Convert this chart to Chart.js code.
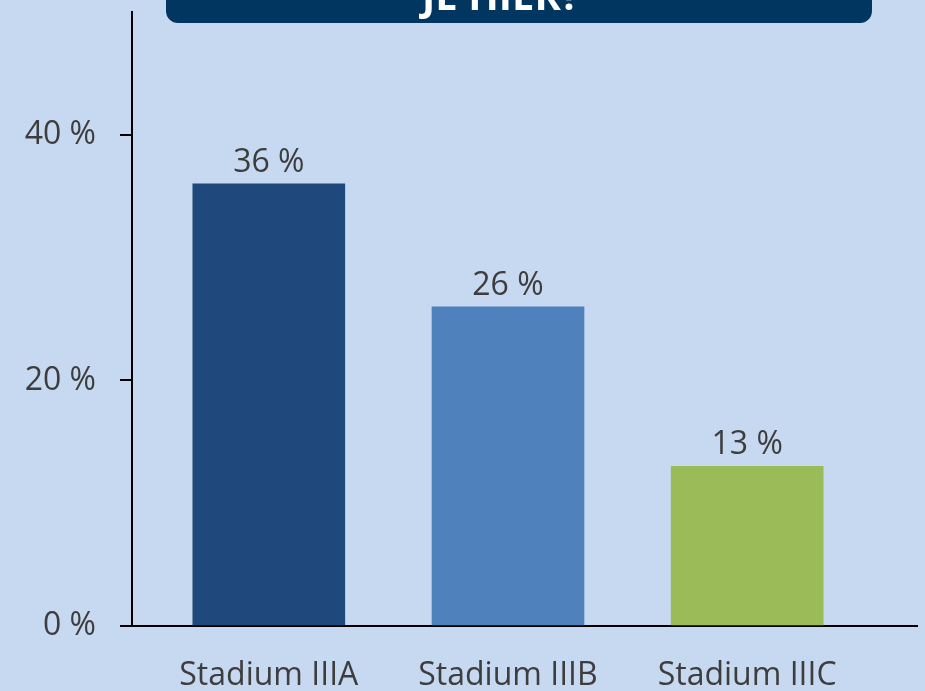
<!DOCTYPE html>
<html>
<head>
<meta charset="utf-8">
<script src="https://cdn.jsdelivr.net/npm/chart.js@4.4.0/dist/chart.umd.min.js"></script>
<style>
  html, body { margin: 0; padding: 0; background: #c6d9f0; }
  #wrap { width: 925px; height: 691px; position: relative; }
</style>
</head>
<body>
<div id="wrap"><canvas id="stageChart"></canvas></div>
<script>
const categories = ['Stadium IIIA', 'Stadium IIIB', 'Stadium IIIC'];
const shares = [36, 26, 13];
const barColors = ['#1f497d', '#4f81bd', '#9bbb59'];
const yTicks = [0, 20, 40];
const heading = 'JE HIER?';

const FONT = "'Open Sans', 'DejaVu Sans', sans-serif";
const TEXT = '#3d3d3d';
const X_MIN = -0.572;

// light blue page background
const backdrop = {
    id: 'backdrop',
    beforeDraw(chart) {
        const ctx = chart.ctx;
        ctx.save();
        ctx.fillStyle = '#c6d9f0';
        ctx.fillRect(0, 0, chart.width, chart.height);
        ctx.restore();
    }
};

// dark header box along the top edge
const headerBox = {
    id: 'headerBox',
    afterDraw(chart) {
        const ctx = chart.ctx;
        ctx.save();
        ctx.fillStyle = '#003660';
        ctx.beginPath();
        ctx.roundRect(166, -30, 706, 53, 12);
        ctx.fill();
        ctx.fillStyle = '#ffffff';
        ctx.font = 'bold 40px ' + FONT;
        ctx.textAlign = 'center';
        ctx.textBaseline = 'alphabetic';
        ctx.fillText(heading, 501, 10);
        ctx.restore();
    }
};

// value labels above each bar
const valueLabels = {
    id: 'valueLabels',
    afterDatasetsDraw(chart) {
        const ctx = chart.ctx;
        const meta = chart.getDatasetMeta(0);
        ctx.save();
        ctx.fillStyle = TEXT;
        ctx.font = '32px ' + FONT;
        ctx.textAlign = 'center';
        ctx.textBaseline = 'alphabetic';
        meta.data.forEach((bar, i) => {
            ctx.fillText(shares[i] + ' %', bar.x, bar.y - 12);
        });
        ctx.restore();
    }
};

new Chart(document.getElementById('stageChart'), {
    type: 'bar',
    data: {
        datasets: [{
            data: shares.map((v, i) => ({ x: i, y: v })),
            backgroundColor: barColors,
            borderWidth: 0,
            barThickness: 152
        }]
    },
    options: {
        responsive: true,
        maintainAspectRatio: false,
        animation: false,
        layout: { padding: { top: 12, right: 8, left: 0, bottom: 0 } },
        plugins: {
            legend: { display: false },
            tooltip: { enabled: false }
        },
        scales: {
            x: {
                type: 'linear',
                min: X_MIN,
                max: 2.71,
                offset: false,
                afterBuildTicks: axis => {
                    axis.ticks = [{ value: X_MIN }].concat(categories.map((c, i) => ({ value: i })));
                },
                afterFit: axis => {
                    axis.height = 65;
                    axis.paddingLeft = 0;
                    axis.paddingRight = 0;
                },
                ticks: {
                    autoSkip: false,
                    maxRotation: 0,
                    padding: 21,
                    color: TEXT,
                    font: { family: FONT, size: 32 },
                    callback: v => (Number.isInteger(v) && categories[v]) ? categories[v] : ''
                },
                grid: {
                    drawOnChartArea: false,
                    tickLength: 10,
                    lineWidth: 2,
                    color: c => (c.tick && c.tick.value === X_MIN) ? '#000000' : 'rgba(0,0,0,0)'
                },
                border: { display: true, color: '#000000', width: 2 }
            },
            y: {
                min: 0,
                max: 50,
                afterBuildTicks: axis => {
                    axis.ticks = yTicks.map(v => ({ value: v }));
                },
                afterFit: axis => {
                    axis.width = 132;
                    axis.paddingTop = 0;
                    axis.paddingBottom = 0;
                },
                ticks: {
                    padding: 24,
                    color: TEXT,
                    font: { family: FONT, size: 32 },
                    callback: v => v + ' %'
                },
                grid: {
                    drawOnChartArea: false,
                    tickLength: 12,
                    lineWidth: 2,
                    color: '#000000'
                },
                border: { display: true, color: '#000000', width: 2 }
            }
        }
    },
    plugins: [backdrop, valueLabels, headerBox]
});
</script>
</body>
</html>
